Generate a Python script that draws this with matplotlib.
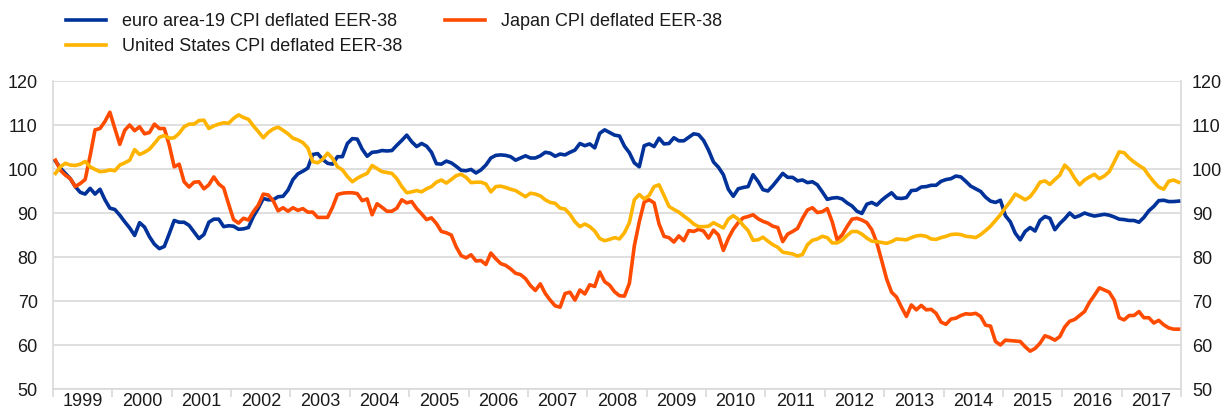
import matplotlib
matplotlib.use("Agg")
import matplotlib.pyplot as plt
import numpy as np

# Monthly data, Jan 1999 - Dec 2017
years = [str(y) for y in range(1999, 2018)]

euro_area = [
    101.8, 100.2, 99.0, 97.8, 96.0, 94.7, 94.3, 95.6, 94.3, 95.4, 93.0, 91.1,   # 1999
    90.8, 89.5, 88.0, 86.6, 84.9, 87.8, 86.8, 84.6, 82.9, 81.9, 82.4, 85.3,     # 2000
    88.3, 87.9, 87.9, 87.2, 85.7, 84.2, 85.1, 87.9, 88.6, 88.6, 86.9, 87.1,     # 2001
    87.0, 86.3, 86.4, 86.7, 89.2, 91.1, 93.3, 93.0, 93.0, 93.7, 93.8, 95.2,     # 2002
    97.6, 98.9, 99.5, 100.2, 103.3, 103.5, 102.2, 101.3, 101.1, 102.8, 102.8, 105.8,  # 2003
    106.9, 106.8, 104.5, 102.9, 103.8, 103.9, 104.2, 104.1, 104.2, 105.4, 106.5, 107.7,  # 2004
    106.2, 105.1, 105.8, 105.2, 103.8, 101.2, 101.1, 101.8, 101.4, 100.6, 99.7, 99.6,   # 2005
    99.9, 99.1, 99.8, 100.9, 102.5, 103.1, 103.2, 103.1, 102.8, 102.0, 102.5, 103.0,    # 2006
    102.5, 102.5, 103.0, 103.8, 103.6, 102.9, 103.4, 103.2, 103.8, 104.3, 105.8, 105.3,  # 2007
    105.7, 104.8, 108.1, 108.9, 108.3, 107.7, 107.5, 105.2, 103.7, 101.4, 100.5, 105.3,  # 2008
    105.7, 105.1, 107.0, 105.7, 105.8, 107.1, 106.4, 106.4, 107.2, 108.0, 107.8, 106.5,  # 2009
    104.3, 101.6, 100.4, 98.7, 95.4, 93.8, 95.5, 95.8, 96.0, 98.7, 97.2, 95.3,          # 2010
    95.0, 96.2, 97.6, 99.0, 98.1, 98.1, 97.3, 97.5, 96.9, 97.1, 96.4, 94.8,             # 2011
    93.1, 93.4, 93.5, 93.2, 92.3, 91.6, 90.4, 89.9, 92.0, 92.4, 91.8, 92.9,             # 2012
    93.8, 94.6, 93.4, 93.3, 93.5, 95.1, 95.2, 95.9, 96.0, 96.3, 96.3, 97.2,             # 2013
    97.6, 97.8, 98.4, 98.2, 97.2, 96.1, 95.5, 94.9, 93.6, 92.7, 92.4, 92.9,             # 2014
    89.4, 88.0, 85.4, 83.9, 85.8, 86.7, 85.9, 88.3, 89.2, 88.8, 86.2, 87.6,             # 2015
    88.7, 90.0, 89.0, 89.4, 90.0, 89.6, 89.3, 89.5, 89.7, 89.5, 89.1, 88.6,             # 2016
    88.5, 88.3, 88.3, 87.9, 89.0, 90.5, 91.5, 92.8, 92.9, 92.6, 92.6, 92.7,             # 2017
]

japan = [
    102.0, 99.7, 98.6, 97.8, 96.0, 96.7, 97.6, 103.0, 108.9, 109.2, 110.8, 112.9,   # 1999
    109.2, 105.6, 108.8, 110.0, 108.7, 109.6, 108.0, 108.3, 110.2, 109.2, 109.2, 105.4,  # 2000
    100.5, 101.1, 97.1, 95.9, 97.0, 97.1, 95.5, 96.4, 98.2, 96.6, 95.7, 92.0,       # 2001
    88.5, 87.7, 88.8, 88.4, 90.3, 91.8, 94.3, 94.1, 92.8, 90.5, 91.2, 90.4,         # 2002
    91.2, 90.6, 91.0, 90.2, 90.2, 89.0, 89.0, 89.0, 91.3, 94.2, 94.5, 94.6,         # 2003
    94.6, 94.4, 92.8, 93.2, 89.6, 92.1, 91.3, 90.4, 90.4, 91.1, 93.0, 92.3,         # 2004
    92.6, 91.0, 89.8, 88.5, 88.9, 87.6, 85.8, 85.5, 85.0, 82.3, 80.3, 79.8,         # 2005
    80.5, 79.1, 79.2, 78.3, 80.9, 79.6, 78.5, 78.1, 77.3, 76.3, 76.0, 75.1,         # 2006
    73.5, 72.4, 73.9, 71.7, 70.2, 68.9, 68.6, 71.7, 72.0, 70.2, 72.5, 71.6,         # 2007
    73.7, 73.3, 76.6, 74.4, 73.6, 72.1, 71.2, 71.1, 74.0, 82.5, 88.0, 92.5,         # 2008
    93.0, 92.3, 87.5, 84.7, 84.4, 83.4, 84.8, 83.7, 86.0, 85.8, 86.3, 85.9,         # 2009
    84.3, 86.1, 85.0, 81.5, 84.2, 86.3, 87.8, 88.9, 89.2, 89.6, 88.7, 88.1,         # 2010
    87.7, 87.0, 86.7, 83.5, 85.2, 85.8, 86.5, 88.8, 90.7, 91.2, 90.1, 90.3,         # 2011
    91.0, 88.0, 83.9, 85.0, 86.9, 88.6, 88.8, 88.4, 87.8, 86.2, 83.3, 79.2,         # 2012
    75.0, 72.0, 70.9, 68.6, 66.5, 69.1, 68.0, 69.0, 68.0, 68.1, 67.2, 65.2,         # 2013
    64.7, 65.9, 66.1, 66.7, 67.1, 67.0, 67.2, 66.5, 64.5, 64.3, 60.8, 60.0,         # 2014
    61.1, 61.0, 60.9, 60.8, 59.6, 58.6, 59.2, 60.4, 62.1, 61.7, 61.1, 61.9,         # 2015
    64.1, 65.4, 65.8, 66.7, 67.6, 69.7, 71.3, 73.0, 72.5, 72.0, 70.2, 66.2,         # 2016
    65.7, 66.7, 66.7, 67.6, 66.2, 66.2, 65.0, 65.6, 64.6, 63.9, 63.6, 63.6,         # 2017
]

united_states = [
    99.0, 100.5, 101.3, 100.9, 100.8, 101.1, 101.7, 100.5, 99.9, 99.4, 99.5, 99.8,  # 1999
    99.6, 100.9, 101.4, 102.0, 104.4, 103.3, 103.8, 104.5, 105.8, 107.2, 107.6, 107.0,  # 2000
    107.1, 108.1, 109.6, 110.2, 110.2, 111.0, 111.1, 109.2, 109.8, 110.2, 110.5, 110.4,  # 2001
    111.5, 112.3, 111.7, 111.3, 109.8, 108.5, 107.1, 108.3, 109.1, 109.5, 108.8, 108.0,  # 2002
    107.0, 106.6, 106.0, 104.8, 101.7, 101.4, 102.2, 103.6, 102.4, 100.5, 99.8, 98.3,   # 2003
    97.1, 97.9, 98.5, 99.0, 100.8, 100.1, 99.4, 99.2, 99.0, 97.8, 96.0, 94.6,           # 2004
    94.8, 95.1, 94.8, 95.5, 96.0, 97.0, 97.5, 96.8, 97.6, 98.5, 98.8, 98.1,             # 2005
    96.9, 97.0, 97.0, 96.6, 94.8, 96.0, 96.1, 95.8, 95.4, 95.1, 94.4, 93.7,             # 2006
    94.5, 94.3, 93.9, 93.0, 92.4, 92.2, 91.1, 90.9, 89.7, 88.0, 86.9, 87.5,             # 2007
    86.9, 85.9, 84.2, 83.7, 84.0, 84.4, 84.1, 85.5, 87.8, 93.0, 94.2, 93.2,             # 2008
    94.0, 96.0, 96.4, 94.0, 91.5, 90.8, 90.2, 89.3, 88.5, 87.5, 86.9, 86.9,             # 2009
    87.0, 87.8, 87.2, 86.6, 88.6, 89.4, 88.6, 87.2, 86.0, 83.8, 83.9, 84.5,             # 2010
    83.6, 82.8, 82.2, 81.1, 80.9, 80.7, 80.2, 80.6, 82.8, 83.8, 84.1, 84.7,             # 2011
    84.4, 83.2, 83.2, 83.8, 84.9, 85.8, 85.8, 85.2, 84.3, 83.6, 83.5, 83.3,             # 2012
    83.1, 83.5, 84.1, 84.0, 83.9, 84.4, 84.8, 84.9, 84.7, 84.1, 84.0, 84.4,             # 2013
    84.7, 85.1, 85.2, 85.1, 84.7, 84.6, 84.4, 85.1, 86.0, 87.0, 88.3, 89.6,             # 2014
    91.2, 92.6, 94.3, 93.7, 93.0, 93.7, 95.2, 97.0, 97.3, 96.5, 97.6, 98.6,             # 2015
    100.9, 99.8, 97.9, 96.4, 97.5, 98.2, 98.8, 97.8, 98.4, 99.4, 101.6, 103.9,          # 2016
    103.7, 102.5, 101.6, 100.8, 100.1, 98.5, 97.1, 95.9, 95.4, 97.2, 97.5, 97.0,        # 2017
]

labels = ["euro area-19 CPI deflated EER-38",
          "United States CPI deflated EER-38",
          "Japan CPI deflated EER-38"]
colors = ["#003299", "#FFB400", "#FF4B00"]

plt.rcParams['font.family'] = ['Liberation Sans', 'DejaVu Sans']

W, H = 1225, 409
fig = plt.figure(figsize=(W / 100, H / 100), dpi=100)
ax = fig.add_axes([53 / W, 1 - 389 / H, (1181 - 53) / W, (389 - 81) / H])

n = len(euro_area)
x = np.arange(n)
l_eu, = ax.plot(x, euro_area, color=colors[0], lw=2.6, solid_joinstyle='round', zorder=3)
l_jp, = ax.plot(x, japan, color=colors[2], lw=2.6, solid_joinstyle='round', zorder=3)
l_us, = ax.plot(x, united_states, color=colors[1], lw=2.6, solid_joinstyle='round', zorder=4)

ax.set_xlim(-0.5, n - 0.5)
ax.set_ylim(50, 120)
ax.set_yticks(np.arange(50, 121, 10))
ax.grid(axis='y', color='#d9d9d9', lw=1.2, zorder=0)
ax.set_axisbelow(True)

grey = '#d9d9d9'
for s in ['left', 'right', 'bottom']:
    ax.spines[s].set_color(grey)
    ax.spines[s].set_linewidth(1.2)
ax.spines['top'].set_visible(False)

ax.set_xticks(np.arange(-0.5, n, 12))
ax.set_xticklabels([])
ax.tick_params(axis='x', which='major', length=6, width=1.2, color=grey)
ax.set_xticks(np.arange(len(years)) * 12 + 5.5, minor=True)
ax.set_xticklabels(years, minor=True)
ax.tick_params(axis='x', which='minor', length=0, pad=3, labelsize=13, labelcolor='#1a1a1a')
ax.tick_params(axis='y', length=0, pad=11, labelsize=13, labelcolor='#1a1a1a')

ax2 = ax.twinx()
ax2.set_ylim(50, 120)
ax2.set_yticks(np.arange(50, 121, 10))
ax2.tick_params(axis='y', length=0, pad=8, labelsize=13, labelcolor='#1a1a1a')
for s in ax2.spines.values():
    s.set_visible(False)

fig.legend([l_eu, l_us, l_jp], labels, ncol=2, frameon=False,
           loc='upper left', bbox_to_anchor=(66 / W, 1 - 13 / H),
           borderpad=0, borderaxespad=0, fontsize=13,
           handlelength=2.2, handletextpad=0.9, columnspacing=2.35,
           labelspacing=0.45, labelcolor='#1a1a1a')

fig.savefig("out.png", dpi=100)
